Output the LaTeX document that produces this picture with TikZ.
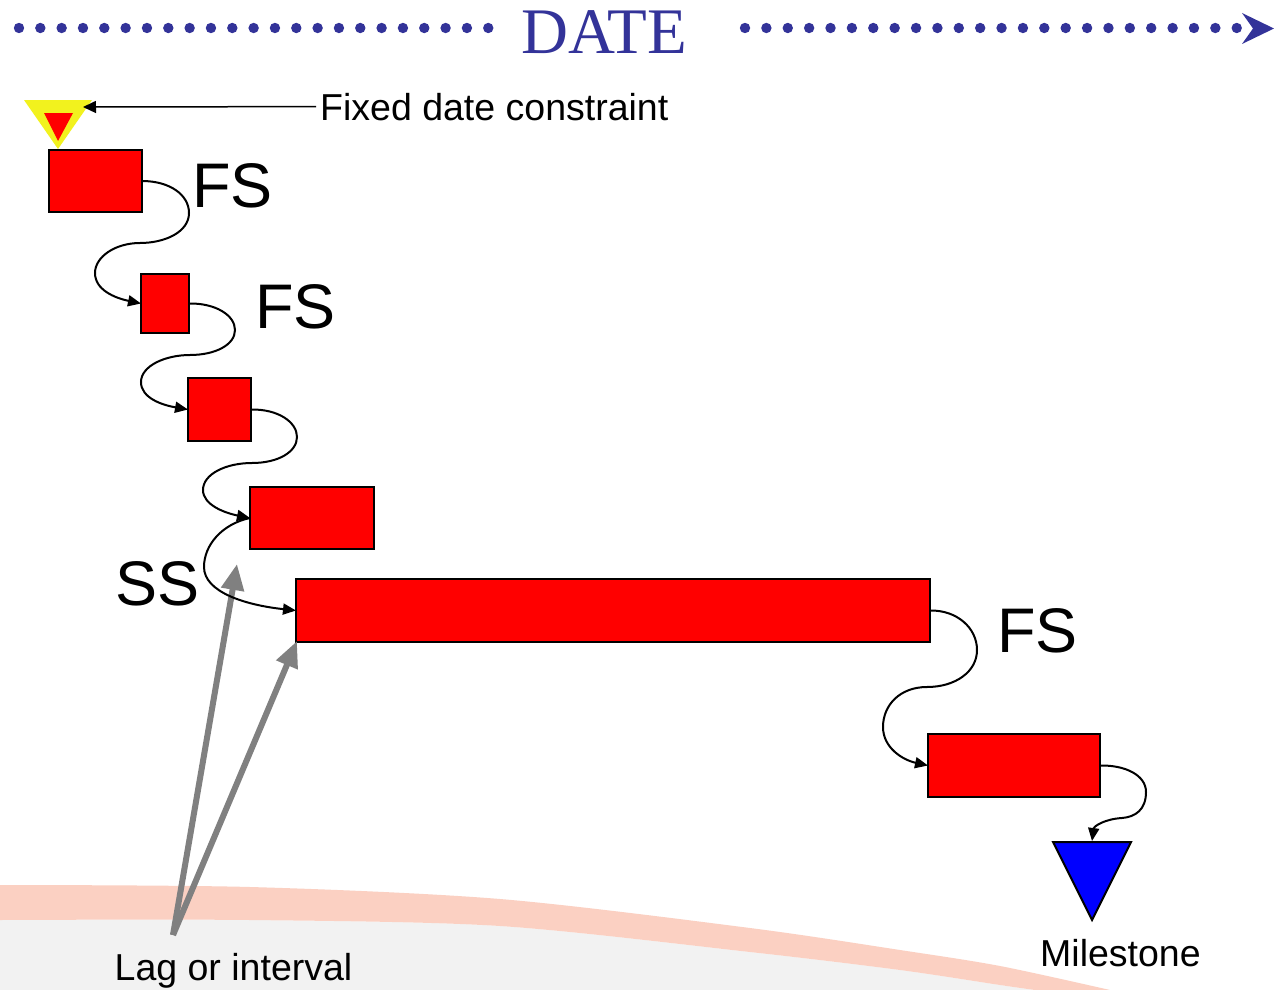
\documentclass[tikz,border=0pt]{standalone}
\usepackage{fontspec}
\setmainfont{Liberation Sans}
\newfontfamily\titlefont{Liberation Serif}
\usetikzlibrary{arrows.meta}
\definecolor{navy}{RGB}{51,51,153}
\definecolor{bandc}{RGB}{251,208,194}
\definecolor{lowgray}{RGB}{242,242,242}
\definecolor{fdyellow}{RGB}{242,242,30}
\definecolor{lagc}{RGB}{128,128,128}
\begin{document}
\begin{tikzpicture}[x=1pt,y=-1pt,
  task/.style={draw=black, line width=2pt, fill=red, anchor=north west, inner sep=0pt, outer sep=0pt},
  link/.style={draw=black, line width=2pt, -{Triangle[length=13pt,width=11pt]}},
  lbl/.style={inner sep=0pt, anchor=base west, font=\fontsize{63}{69}\selectfont},
  note/.style={inner sep=0pt, anchor=base west, font=\fontsize{37.5}{42}\selectfont},
  lagarrow/.style={draw=lagc, line width=6pt, -{Triangle[length=26pt,width=22pt]}}]
\useasboundingbox (0,0) rectangle (1274,990);
% background
\fill[white] (0,0) rectangle (1274,990);
\fill[lowgray] plot[smooth] coordinates {(0,920) (250,920) (500,926) (750,952) (900,970) (1000,985) (1035,990)} -- (0,990) -- cycle;
\fill[bandc] plot[smooth] coordinates {(0,885) (250,887) (500,899) (750,928) (900,950) (1000,966) (1110,990)}
  -- plot[smooth] coordinates {(1035,990) (1000,985) (900,970) (750,952) (500,926) (250,920) (0,920)} -- cycle;
% title
\foreach \i in {0,...,22} \fill[navy] ({19+21.33*\i},28) circle (5.2);
\foreach \i in {0,...,23} \fill[navy] ({745+21.38*\i},28) circle (5.2);
\fill[navy] (1242,13) -- (1274,28.5) -- (1242,44) -- (1253,28.5) -- cycle;
\node[anchor=base west, inner sep=0pt, text=navy, font=\titlefont\fontsize{65}{72}\selectfont] (date) at (521,54) {DATE};
% fixed date constraint
\fill[fdyellow] (24,100) -- (92,100) -- (58,149) -- cycle;
\fill[red] (44,113) -- (73,113) -- (58,141) -- cycle;
\coordinate (fdtip) at (83,107);
\node[note] (fdl) at (320,120) {Fixed date constraint};
\draw[line width=1.5pt, -{Triangle[length=13pt,width=12pt]}] ([xshift=-4pt]fdl.west) -- (fdtip);
% lag arrows
\coordinate (lagorigin) at (173,935);
\coordinate (lagtip) at (237,564);
% tasks
\node[task, minimum width=93pt, minimum height=62pt] (b1) at (49,150) {};
\node[task, minimum width=48pt, minimum height=59pt] (b2) at (141,274) {};
\node[task, minimum width=63pt, minimum height=63pt] (b3) at (188,378) {};
\node[task, minimum width=124pt, minimum height=62pt] (b4) at (250,487) {};
\node[task, minimum width=634pt, minimum height=63pt] (b5) at (296,579) {};
\node[task, minimum width=172pt, minimum height=63pt] (b6) at (928,734) {};
\draw[lagarrow] (lagorigin) -- (lagtip);
\draw[lagarrow] (lagorigin) -- ([shift={(1,-1)}]b5.south west);
% milestone
\draw[line width=2pt, fill=blue, line join=miter] (1053,842) -- (1131,842) -- (1092,920) -- cycle;
\coordinate (mstop) at (1092,841);
% connectors
\draw[link] (b1.east) .. controls (170,181) and (189,195) .. (189,213)
  .. controls (189,232) and (165,243) .. (140,243)
  .. controls (115,243) and (95,257) .. (95,273)
  .. controls (95,290) and (115,298) .. (b2.west);
\draw[link] (b2.east) .. controls (215,303) and (235,315) .. (235,330)
  .. controls (235,345) and (215,355) .. (190,355)
  .. controls (165,355) and (141,366) .. (141,382)
  .. controls (141,398) and (162,405) .. (b3.west);
\draw[link] (b3.east) .. controls (278,409) and (297,422) .. (297,437)
  .. controls (297,452) and (278,463) .. (252,463)
  .. controls (226,463) and (203,474) .. (203,490)
  .. controls (203,505) and (225,513) .. (b4.west);
\draw[link] (b4.west) .. controls (222,524) and (204,545) .. (204,567)
  .. controls (204,592) and (245,605) .. (b5.west);
\draw[link] (b5.east) .. controls (957,610) and (977,628) .. (977,650)
  .. controls (977,672) and (955,687) .. (927,687)
  .. controls (900,687) and (883,705) .. (883,727)
  .. controls (883,748) and (903,760) .. (b6.west);
\draw[link] (b6.east) .. controls (1125,765) and (1146,775) .. (1146,792)
  .. controls (1146,810) and (1135,817) .. (1122,818)
  .. controls (1105,819) and (1094,826) .. (mstop);
% labels
\node[lbl] (fs1) at (192,207) {FS};
\node[lbl] (fs2) at (255,328) {FS};
\node[lbl] (fs3) at (997,652) {FS};
\node[lbl] (ss) at (115,605) {SS};
\node[note] (lag) at (114.5,980) {Lag or interval};
\node[note] (ms) at (1040,966) {Milestone};
\end{tikzpicture}
\end{document}
